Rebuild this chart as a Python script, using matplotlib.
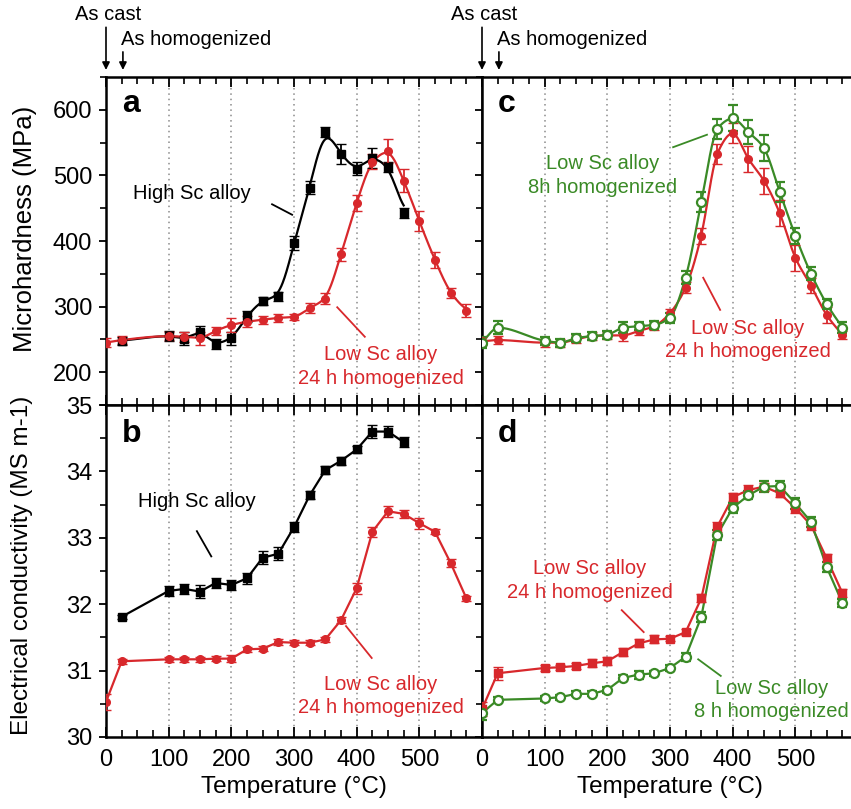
import numpy as np
import matplotlib
matplotlib.use("Agg")
import matplotlib.pyplot as plt

plt.rcParams["font.family"] = ["Liberation Sans", "DejaVu Sans"]

RED = "#d8282c"
GREEN = "#3a8a26"

# temperatures (°C): 0 = as cast, 25 = as homogenized
T_HIGH = [25, 100, 125, 150, 175, 200, 225, 250, 275, 300, 325, 350, 375, 400, 425, 450, 475]
T_LOW = [0, 25, 100, 125, 150, 175, 200, 225, 250, 275, 300, 325, 350, 375, 400, 425, 450,
         475, 500, 525, 550, 575]

# panel a: microhardness (MPa)
hv_high = [248, 255, 251, 262, 243, 252, 285, 309, 316, 397, 481, 566, 533, 510, 527, 513, 443]
hv_high_err = [6, 8, 10, 8, 7, 10, 8, 6, 7, 10, 10, 8, 15, 10, 15, 8, 8]
hv_low24 = [245, 249, 255, 254, 252, 263, 272, 277, 280, 283, 284, 298, 312, 380, 458, 521,
            537, 492, 430, 371, 321, 294]
hv_low24_err = [7, 6, 6, 8, 10, 6, 10, 8, 6, 6, 5, 8, 8, 10, 12, 12, 18, 18, 15, 12, 8, 10]

# panel b: electrical conductivity (MS/m)
ec_high = [31.81, 32.20, 32.23, 32.19, 32.32, 32.29, 32.39, 32.70, 32.76, 33.16, 33.64, 34.02,
           34.16, 34.33, 34.60, 34.60, 34.44]
ec_high_err = [0.03, 0.08, 0.08, 0.1, 0.08, 0.08, 0.08, 0.1, 0.1, 0.08, 0.06, 0.06, 0.06,
               0.05, 0.1, 0.08, 0.08]
ec_low24 = [30.53, 31.14, 31.17, 31.17, 31.17, 31.18, 31.18, 31.32, 31.33, 31.43, 31.42, 31.42,
            31.47, 31.76, 32.24, 33.09, 33.40, 33.36, 33.22, 33.09, 32.62, 32.09]
ec_low24_err = [0.12, 0.04, 0.04, 0.04, 0.04, 0.04, 0.05, 0.04, 0.04, 0.04, 0.04, 0.04, 0.04,
                0.04, 0.08, 0.08, 0.08, 0.06, 0.08, 0.04, 0.06, 0.04]

# panel c: microhardness, low Sc alloy 8 h vs 24 h
hv_c8 = [245, 268, 248, 245, 252, 255, 257, 268, 270, 272, 283, 344, 459, 571, 587, 566, 542,
         475, 408, 350, 304, 268]
hv_c8_err = [8, 10, 6, 6, 6, 6, 6, 8, 6, 6, 8, 10, 15, 15, 20, 18, 20, 15, 12, 10, 8, 8]
hv_c24 = [247, 249, 245, 245, 250, 255, 256, 256, 263, 270, 290, 329, 408, 533, 565, 525, 492,
          443, 374, 332, 287, 257]
hv_c24_err = [6, 6, 6, 6, 6, 6, 6, 8, 6, 6, 6, 8, 12, 15, 15, 20, 20, 20, 20, 12, 12, 6]

# panel d: conductivity, low Sc alloy 8 h vs 24 h
ec_d24 = [30.42, 30.96, 31.04, 31.05, 31.07, 31.11, 31.14, 31.28, 31.41, 31.47, 31.48, 31.58,
          32.09, 33.16, 33.61, 33.72, 33.77, 33.67, 33.45, 33.19, 32.69, 32.17]
ec_d24_err = [0.1, 0.1, 0.04, 0.04, 0.04, 0.06, 0.06, 0.06, 0.06, 0.06, 0.04, 0.05, 0.06, 0.08,
              0.06, 0.08, 0.06, 0.06, 0.08, 0.08, 0.06, 0.06]
ec_d8 = [30.36, 30.56, 30.58, 30.60, 30.65, 30.65, 30.71, 30.89, 30.94, 30.96, 31.04, 31.21,
         31.81, 33.04, 33.45, 33.64, 33.77, 33.78, 33.52, 33.24, 32.56, 32.02]
ec_d8_err = [0.1, 0.04, 0.04, 0.04, 0.04, 0.04, 0.04, 0.04, 0.06, 0.04, 0.04, 0.06, 0.08, 0.08,
             0.08, 0.06, 0.08, 0.08, 0.08, 0.08, 0.08, 0.06]


def smooth(x, y, sigma=0.0, n=600):
    # pchip curve through the points (+ optional gaussian blur), only for the drawn line
    x = np.asarray(x, float)
    y = np.asarray(y, float)
    h = np.diff(x)
    d = np.diff(y) / h
    m = np.zeros_like(y)
    m[0], m[-1] = d[0], d[-1]
    for k in range(1, len(x) - 1):
        if d[k - 1] * d[k] > 0:
            w1 = 2 * h[k] + h[k - 1]
            w2 = h[k] + 2 * h[k - 1]
            m[k] = (w1 + w2) / (w1 / d[k - 1] + w2 / d[k])
    xs = np.linspace(x[0], x[-1], n)
    i = np.clip(np.searchsorted(x, xs) - 1, 0, len(x) - 2)
    t = (xs - x[i]) / h[i]
    ys = ((2 * t**3 - 3 * t**2 + 1) * y[i] + (t**3 - 2 * t**2 + t) * h[i] * m[i]
          + (-2 * t**3 + 3 * t**2) * y[i + 1] + (t**3 - t**2) * h[i] * m[i + 1])
    if sigma > 0:
        dx = xs[1] - xs[0]
        half = int(3 * sigma / dx)
        kx = np.arange(-half, half + 1) * dx
        ker = np.exp(-0.5 * (kx / sigma) ** 2)
        ker /= ker.sum()
        pad = np.concatenate([np.full(half, ys[0]), ys, np.full(half, ys[-1])])
        ys = np.convolve(pad, ker, mode="valid")
    return xs, ys


def series(ax, x, y, err, color, marker, sigma=None, open_marker=False, ms=5.5):
    if sigma is None:
        xs, ys = x, y
    else:
        xs, ys = smooth(x, y, sigma)
    ax.plot(xs, ys, color=color, lw=1.6, zorder=3)
    ax.errorbar(x, y, yerr=err, fmt=marker, color=color, ecolor=color, ms=ms,
                mfc="white" if open_marker else color, mec=color,
                mew=1.6 if open_marker else 1, elinewidth=1.3, capsize=3.5,
                capthick=1.3, zorder=4)


def style_axes(ax, ylim, minor, labels_x, labels_y):
    ax.set_xlim(0, 600)
    ax.set_ylim(*ylim)
    ax.set_xticks(np.arange(0, 601, 100))
    ax.set_xticks(np.arange(0, 601, 25), minor=True)
    ax.set_yticks(np.arange(ylim[0], ylim[1] + 0.001, minor), minor=True)
    ax.tick_params(axis="x", which="both", direction="in", top=True, bottom=True,
                   labelbottom=labels_x, labelsize=17, pad=9)
    ax.tick_params(axis="x", which="major", length=7, width=1.3)
    ax.tick_params(axis="x", which="minor", length=5, width=1.2)
    ax.tick_params(axis="y", which="both", direction="out", left=True, right=False,
                   labelleft=labels_y, labelsize=17, pad=5)
    ax.tick_params(axis="y", which="major", length=5, width=1.3)
    ax.tick_params(axis="y", which="minor", length=4, width=1.2)
    for x in range(100, 600, 100):
        ax.axvline(x, color="#8a8a8a", lw=1.1, ls=(0, (1, 2.5)), zorder=1)
    for s in ax.spines.values():
        s.set_linewidth(1.8)


W, H = 851, 809
fig = plt.figure(figsize=(W / 100, H / 100), dpi=100)

left_a, left_c, width = 106 / W, 482 / W, 376 / W
top_a, mid, bot = 77, 405, 737
ax_a = fig.add_axes([left_a, 1 - mid / H, width, (mid - top_a) / H])
ax_b = fig.add_axes([left_a, 1 - bot / H, width, (bot - mid) / H])
ax_c = fig.add_axes([left_c, 1 - mid / H, width, (mid - top_a) / H])
ax_d = fig.add_axes([left_c, 1 - bot / H, width, (bot - mid) / H])

style_axes(ax_a, (150, 650), 50, False, True)
style_axes(ax_b, (30, 35), 0.5, True, True)
style_axes(ax_c, (150, 650), 50, False, False)
style_axes(ax_d, (30, 35), 0.5, True, False)
for ax in (ax_a, ax_c):
    ax.set_yticks([200, 300, 400, 500, 600])
ax_a.set_yticklabels(["200", "300", "400", "500", "600"])
for ax in (ax_b, ax_d):
    ax.set_yticks([30, 31, 32, 33, 34, 35])
    ax.set_xticklabels(["0", "100", "200", "300", "400", "500", ""])
    ax.set_xlabel("Temperature (°C)", fontsize=17.5, labelpad=3)
ax_b.set_yticklabels(["30", "31", "32", "33", "34", "35"])

# panel a
series(ax_a, T_HIGH, hv_high, hv_high_err, "black", "s", sigma=9)
series(ax_a, T_LOW, hv_low24, hv_low24_err, RED, "o", sigma=7)
# panel b
series(ax_b, T_HIGH, ec_high, ec_high_err, "black", "s")
series(ax_b, T_LOW, ec_low24, ec_low24_err, RED, "o")
# panel c
series(ax_c, T_LOW, hv_c24, hv_c24_err, RED, "o", sigma=4)
series(ax_c, T_LOW, hv_c8, hv_c8_err, GREEN, "o", sigma=4, open_marker=True, ms=6.5)
# panel d
series(ax_d, T_LOW, ec_d24, ec_d24_err, RED, "s")
series(ax_d, T_LOW, ec_d8, ec_d8_err, GREEN, "o", open_marker=True, ms=6.5)

# panel letters
for ax, letter, yb in ((ax_a, "a", 0.893), (ax_b, "b", 0.889),
                       (ax_c, "c", 0.893), (ax_d, "d", 0.889)):
    ax.text(0.043, yb, letter, transform=ax.transAxes, fontsize=23, fontweight="bold",
            va="baseline", ha="left")

ann = dict(fontsize=14.5, ha="center", va="center", linespacing=1.3)
ax_a.text(137, 473, "High Sc alloy", color="black", **ann)
ax_a.plot([265, 297], [456, 440], color="black", lw=1.3)
ax_a.text(439, 209, "Low Sc alloy\n24 h homogenized", color=RED, **ann)
ax_a.plot([369, 413], [299, 254], color=RED, lw=1.3)

ax_b.text(145, 33.54, "High Sc alloy", color="black", **ann)
ax_b.plot([145, 168], [33.10, 32.72], color="black", lw=1.3)
ax_b.text(439, 30.62, "Low Sc alloy\n24 h homogenized", color=RED, **ann)
ax_b.plot([383, 424], [31.67, 31.19], color=RED, lw=1.3)

ax_c.text(193, 500, "Low Sc alloy\n8h homogenized", color=GREEN, **ann)
ax_c.plot([305, 359], [543, 562], color=GREEN, lw=1.3)
ax_c.text(424, 249, "Low Sc alloy\n24 h homogenized", color=RED, **ann)
ax_c.plot([353, 380], [344, 295], color=RED, lw=1.3)

ax_d.text(172, 32.36, "Low Sc alloy\n24 h homogenized", color=RED, **ann)
ax_d.plot([223, 258], [31.91, 31.58], color=RED, lw=1.3)
ax_d.text(462, 30.56, "Low Sc alloy\n8 h homogenized", color=GREEN, **ann)
ax_d.plot([345, 381], [31.17, 30.92], color=GREEN, lw=1.3)

# y labels
fig.text(25 / W, 1 - 229 / H, "Microhardness (MPa)", rotation=90, fontsize=18.5,
         ha="center", va="center")
fig.text(22 / W, 1 - 565 / H, "Electrical conductivity (MS m-1)", rotation=90,
         fontsize=17.5, ha="center", va="center")

# as cast / as homogenized markers
for ax in (ax_a, ax_c):
    tr = ax.get_xaxis_transform()
    ax.annotate("", xy=(0, 1.013), xycoords=tr, xytext=(0, 1.16), textcoords=tr,
                arrowprops=dict(arrowstyle="-|>", color="black", lw=1.2,
                                mutation_scale=11), annotation_clip=False)
    ax.annotate("", xy=(27, 1.013), xycoords=tr, xytext=(27, 1.085), textcoords=tr,
                arrowprops=dict(arrowstyle="-|>", color="black", lw=1.2,
                                mutation_scale=11), annotation_clip=False)
    ax.text(3, 1.19, "As cast", transform=tr, fontsize=14.5, ha="center", va="center",
            clip_on=False)
    ax.text(24, 1.115, "As homogenized", transform=tr, fontsize=14.5, ha="left",
            va="center", clip_on=False)

fig.savefig("out.png", dpi=100)
